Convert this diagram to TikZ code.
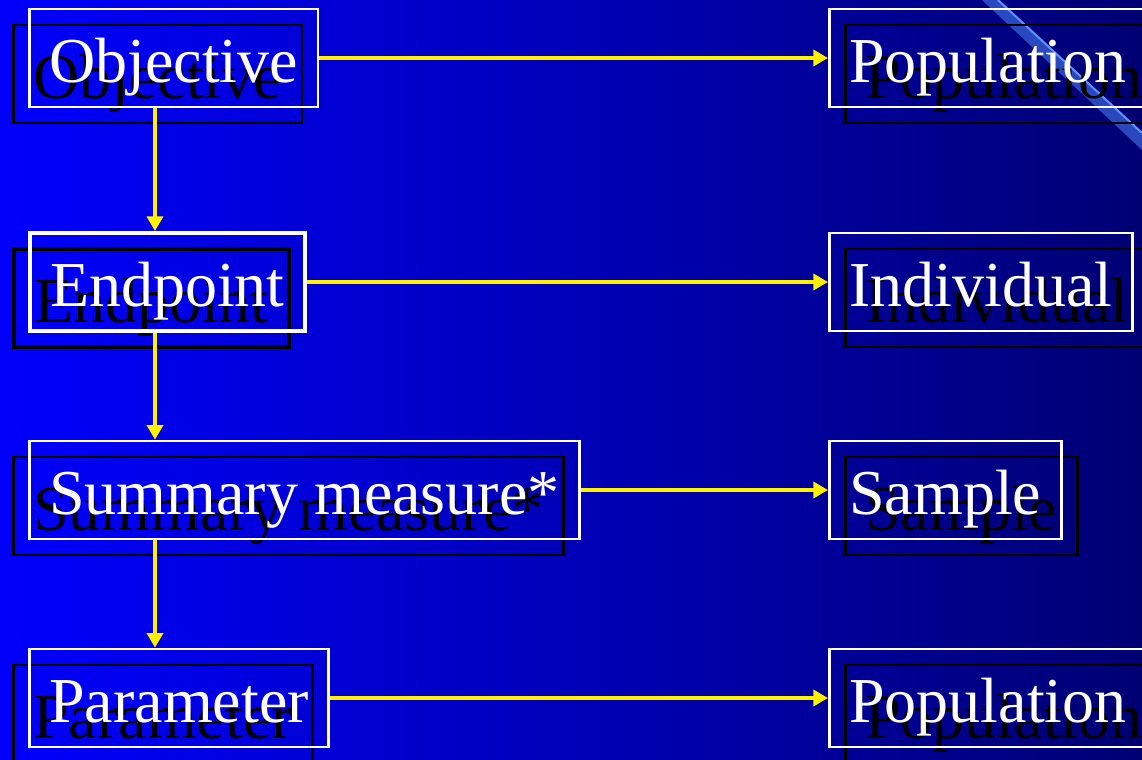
\documentclass[tikz,border=0pt]{standalone}
\usepackage{fontspec}
\setmainfont{Liberation Serif}
\usetikzlibrary{arrows.meta}

\begin{document}
\begin{tikzpicture}[x=0.75pt,y=-0.75pt,
  slidebox/.style={draw, line width=2pt, anchor=west, font=\fontsize{48}{50}\selectfont,
    inner xsep=15pt, inner ysep=0pt, minimum height=73.5pt, text height=42pt, text depth=6pt},
  frontbox/.style={slidebox, draw=white, text=white},
  backbox/.style={slidebox, draw=black, text=black},
  flow/.style={draw=yellow, line width=3pt, -{Triangle[length=11pt,width=12pt]}},
]
\clip (0,0) rectangle (1142,760);
\shade[left color={rgb,255:red,0;green,0;blue,252}, right color={rgb,255:red,0;green,0;blue,115}] (0,0) rectangle (1142,760);
% corner stripe
\fill[color={rgb,255:red,70;green,120;blue,235}, opacity=0.6] (982,0) -- (998,0) -- (1142,133) -- (1142,150) -- cycle;
\draw[color={rgb,255:red,90;green,150;blue,255}, line width=1.5pt] (998,0) -- (1142,133);
\coordinate (spine) at (155,0);

% shadows
\node[backbox] (objective-sh) at (12,74) {Objective};
\node[backbox, line width=3pt] (endpoint-sh) at (12,298) {Endpoint};
\node[backbox] (summary-sh) at (12,506) {Summary measure*};
\node[backbox] (parameter-sh) at (12,714) {Parameter};
\node[backbox] (poptop-sh) at (844,74) {Population};
\node[backbox] (individual-sh) at (844,298) {Individual};
\node[backbox] (sample-sh) at (844,506) {Sample};
\node[backbox] (popbot-sh) at (844,714) {Population};

\node[frontbox] (objective) at (28,58) {Objective};
\node[frontbox, line width=3pt] (endpoint) at (28,282) {Endpoint};
\node[frontbox] (summary) at (28,490) {Summary measure*};
\node[frontbox] (parameter) at (28,698) {Parameter};
\node[frontbox] (poptop) at (828,58) {Population};
\node[frontbox] (individual) at (828,282) {Individual};
\node[frontbox] (sample) at (828,490) {Sample};
\node[frontbox] (popbot) at (828,698) {Population};

\draw[flow] (objective.east) -- (poptop.west);
\draw[flow] (endpoint.east) -- (individual.west);
\draw[flow] (summary.east) -- (sample.west);
\draw[flow] (parameter.east) -- (popbot.west);
\draw[flow] (objective.south -| spine) -- (endpoint.north -| spine);
\draw[flow] (endpoint.south -| spine) -- (summary.north -| spine);
\draw[flow] (summary.south -| spine) -- (parameter.north -| spine);
\end{tikzpicture}
\end{document}
